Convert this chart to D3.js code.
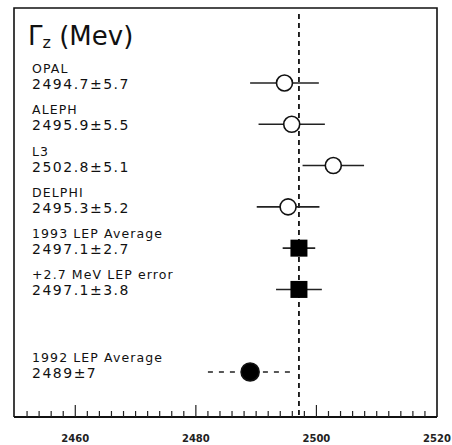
<!doctype html>
<html lang="en">
  <head>
    <meta charset="UTF-8" />
    <title>Gamma Z LEP measurements</title>
    <script src="https://d3js.org/d3.v7.min.js"></script>
    <style>
      body {
        margin: 0;
        padding: 0;
        background: #fff;
      }
      .frame {
        fill: none;
        stroke: #111;
        stroke-width: 1.6;
      }
      .name {
        font-family: 'DejaVu Sans', sans-serif;
        font-size: 12.5px;
        fill: #111;
        letter-spacing: 1.1px;
      }
      .num {
        font-family: 'DejaVu Sans', sans-serif;
        font-size: 14px;
        fill: #111;
        letter-spacing: 1.5px;
      }
      .tick-label {
        font-family: 'DejaVu Sans', sans-serif;
        font-size: 10px;
        font-weight: bold;
        fill: #222;
      }
    </style>
  </head>
  <body>
    <div id="chart"></div>
    <script>
      // Data
      const experiments = ['OPAL', 'ALEPH', 'L3', 'DELPHI', '1993 LEP Average', '+2.7 MeV LEP error', '1992 LEP Average']
      const values = [2494.7, 2495.9, 2502.8, 2495.3, 2497.1, 2497.1, 2489]
      const errors = [5.7, 5.5, 5.1, 5.2, 2.7, 3.8, 7]
      const valueText = ['2494.7±5.7', '2495.9±5.5', '2502.8±5.1', '2495.3±5.2', '2497.1±2.7', '2497.1±3.8', '2489±7']
      const markers = ['open', 'open', 'open', 'open', 'square', 'square', 'dot']
      const xTicks = [2460, 2480, 2500, 2520]
      const refValue = 2497.1

      const W = 452
      const H = 445
      const frame = { left: 14, right: 437, top: 8, bottom: 417 }

      const svg = d3.select('#chart').append('svg').attr('width', W).attr('height', H)

      const x = d3.scaleLinear().domain([2450, 2520]).range([15, 437])

      // blank slot leaves the gap above the 1992 average
      const rows = experiments.slice(0, 6).concat([''], experiments.slice(6))
      const y = d3.scalePoint().domain(rows).range([83, 372])

      const data = experiments.map((name, i) => ({
        name,
        value: values[i],
        err: errors[i],
        text: valueText[i],
        marker: markers[i],
      }))

      // frame
      svg
        .append('path')
        .attr('class', 'frame')
        .attr('d', `M${frame.left},${frame.bottom}V${frame.top}H${frame.right}V${frame.bottom}`)

      // bottom axis with inward ticks
      const minor = d3.range(2452, 2520, 2)
      svg
        .append('line')
        .attr('x1', frame.left)
        .attr('x2', frame.right)
        .attr('y1', frame.bottom)
        .attr('y2', frame.bottom)
        .attr('stroke', '#111')
        .attr('stroke-width', 2)

      svg
        .selectAll('.tick')
        .data(minor)
        .join('line')
        .attr('class', 'tick')
        .attr('x1', (d) => x(d))
        .attr('x2', (d) => x(d))
        .attr('y1', frame.bottom)
        .attr('y2', (d) => frame.bottom - (d % 20 === 0 ? 12 : 6))
        .attr('stroke', '#222')
        .attr('stroke-width', 1.2)

      svg
        .selectAll('.tick-label')
        .data(xTicks)
        .join('text')
        .attr('class', 'tick-label')
        .attr('x', (d) => x(d))
        .attr('y', 442)
        .attr('text-anchor', 'middle')
        .text((d) => d)

      // reference dashed line
      svg
        .append('line')
        .attr('x1', x(refValue))
        .attr('x2', x(refValue))
        .attr('y1', 14)
        .attr('y2', frame.bottom)
        .attr('stroke', '#111')
        .attr('stroke-width', 1.8)
        .attr('stroke-dasharray', '5,4')

      // title
      const title = svg
        .append('text')
        .attr('x', 28)
        .attr('y', 45)
        .attr('font-family', "'DejaVu Sans', sans-serif")
        .attr('font-size', 26)
        .attr('fill', '#111')
      title.append('tspan').text('Γ')
      title.append('tspan').attr('font-size', 16).attr('dy', 3).text('z')
      title.append('tspan').attr('dy', -3).text(' (Mev)')

      // labels
      svg
        .selectAll('.name')
        .data(data)
        .join('text')
        .attr('class', 'name')
        .attr('x', 32)
        .attr('y', (d) => y(d.name) - 10)
        .text((d) => d.name)

      svg
        .selectAll('.num')
        .data(data)
        .join('text')
        .attr('class', 'num')
        .attr('x', 32)
        .attr('y', (d) => y(d.name) + 6)
        .text((d) => d.text)

      // error bars
      svg
        .selectAll('.err')
        .data(data)
        .join('line')
        .attr('class', 'err')
        .attr('x1', (d) => x(d.value - d.err))
        .attr('x2', (d) => x(d.value + d.err))
        .attr('y1', (d) => y(d.name))
        .attr('y2', (d) => y(d.name))
        .attr('stroke', '#222')
        .attr('stroke-width', 1.6)
        .attr('stroke-dasharray', (d) => (d.marker === 'dot' ? '5,6' : null))

      // markers
      svg
        .selectAll('.circ')
        .data(data.filter((d) => d.marker !== 'square'))
        .join('circle')
        .attr('class', 'circ')
        .attr('cx', (d) => x(d.value))
        .attr('cy', (d) => y(d.name))
        .attr('r', (d) => (d.marker === 'dot' ? 9 : 8))
        .attr('fill', (d) => (d.marker === 'dot' ? '#000' : '#fff'))
        .attr('stroke', '#111')
        .attr('stroke-width', 1.6)

      svg
        .selectAll('.sq')
        .data(data.filter((d) => d.marker === 'square'))
        .join('rect')
        .attr('class', 'sq')
        .attr('x', (d) => x(d.value) - 8.5)
        .attr('y', (d) => y(d.name) - 8.5)
        .attr('width', 17)
        .attr('height', 17)
        .attr('fill', '#000')
    </script>
  </body>
</html>
